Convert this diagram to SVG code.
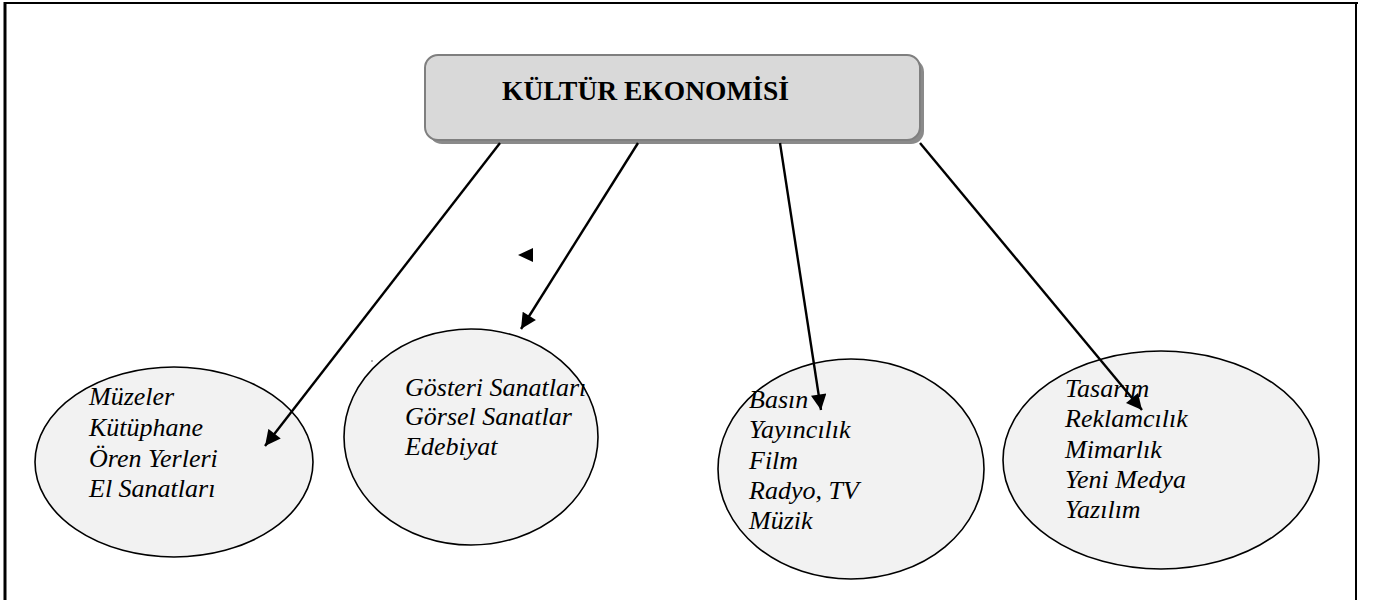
<svg xmlns="http://www.w3.org/2000/svg" width="1374" height="600" viewBox="0 0 1374 600">
  <defs>
    <marker id="arrow" viewBox="0 0 10 10" refX="10" refY="5" markerWidth="7" markerHeight="6.5" markerUnits="strokeWidth" orient="auto">
      <path d="M0,0 L10,5 L0,10 Z" fill="#000"/>
    </marker>
    <style>
      .frame { fill: none; stroke: #000; }
      .oval { fill: #f2f2f2; stroke: #000; stroke-width: 1.6; }
      .item { font-family: 'Liberation Serif', 'Times New Roman', serif; font-style: italic; font-size: 26px; fill: #000; }
      .title { font-family: 'Liberation Serif', 'Times New Roman', serif; font-weight: bold; font-size: 27.5px; fill: #000; }
      .link { stroke: #000; stroke-width: 2.4; fill: none; marker-end: url(#arrow); }
    </style>
  </defs>

  <rect width="1374" height="600" fill="#fff"/>

  <!-- page frame -->
  <line class="frame" x1="4" y1="3" x2="1358" y2="3" stroke-width="2"/>
  <line class="frame" x1="5" y1="2" x2="5" y2="600" stroke-width="3"/>
  <line class="frame" x1="1356" y1="2" x2="1356" y2="600" stroke-width="2"/>

  <!-- heading box with drop shadow -->
  <g id="kultur-ekonomisi">
    <rect x="429" y="59" width="495" height="85" rx="13" fill="#8a8a8a"/>
    <rect x="425" y="55" width="495" height="85" rx="13" fill="#d9d9d9" stroke="#7f7f7f" stroke-width="2"/>
    <text class="title" x="502" y="100">KÜLTÜR EKONOMİSİ</text>
  </g>

  <g id="miras">
    <ellipse class="oval" cx="174" cy="462" rx="139" ry="95" stroke-width="1.2"/>
    <text class="item" x="89" y="405">Müzeler</text>
    <text class="item" x="89" y="436">Kütüphane</text>
    <text class="item" x="89" y="467">Ören Yerleri</text>
    <text class="item" x="89" y="497">El Sanatları</text>
  </g>

  <g id="sanatlar">
    <ellipse class="oval" cx="471" cy="437" rx="127" ry="108"/>
    <text class="item" x="405" y="396">Gösteri Sanatları</text>
    <text class="item" x="405" y="425">Görsel Sanatlar</text>
    <text class="item" x="405" y="455">Edebiyat</text>
  </g>

  <g id="medya">
    <ellipse class="oval" cx="851" cy="469" rx="133" ry="110"/>
    <text class="item" x="749" y="408">Basın</text>
    <text class="item" x="749" y="438">Yayıncılık</text>
    <text class="item" x="749" y="469">Film</text>
    <text class="item" x="749" y="499">Radyo, TV</text>
    <text class="item" x="749" y="529">Müzik</text>
  </g>

  <g id="yaratici">
    <ellipse class="oval" cx="1161" cy="460" rx="158" ry="109"/>
    <text class="item" x="1065" y="397">Tasarım</text>
    <text class="item" x="1065" y="427">Reklamcılık</text>
    <text class="item" x="1065" y="458">Mimarlık</text>
    <text class="item" x="1065" y="488">Yeni Medya</text>
    <text class="item" x="1065" y="518">Yazılım</text>
  </g>

  <!-- connectors, drawn over the ovals -->
  <g id="connectors">
    <line class="link" x1="500" y1="143" x2="265" y2="446"/>
    <line class="link" x1="638" y1="143" x2="521" y2="329"/>
    <line class="link" x1="780" y1="143" x2="821" y2="410"/>
    <line class="link" x1="920" y1="143" x2="1142" y2="410"/>
    <path d="M518,255 L533,248 L533,262 Z" fill="#000"/>
    <circle cx="372" cy="361" r="0.8" fill="#555"/>
  </g>
</svg>
